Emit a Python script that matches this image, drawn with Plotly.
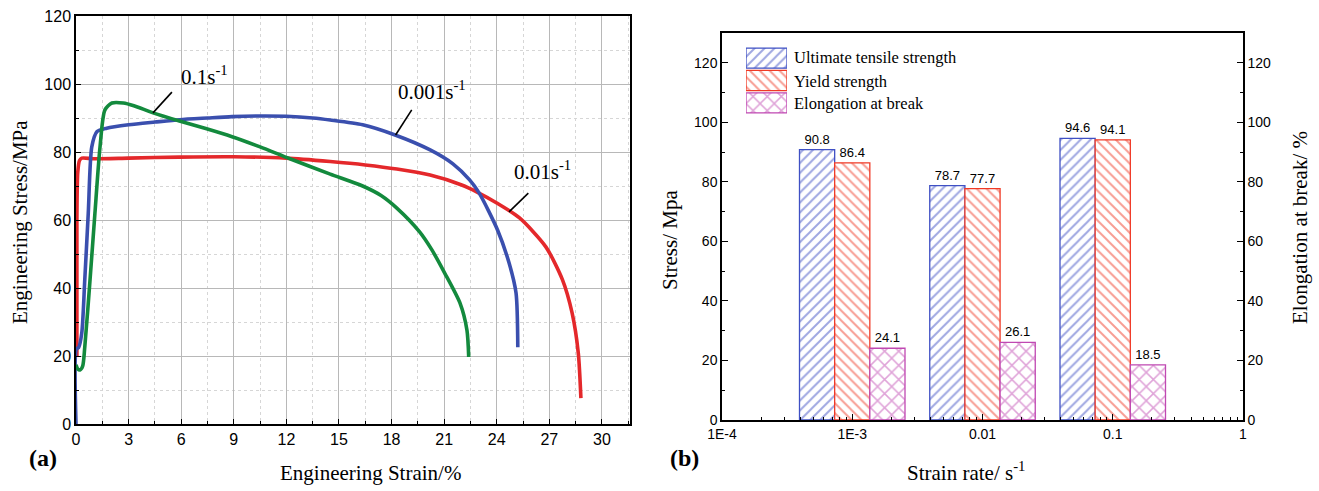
import numpy as np
import plotly.graph_objects as go

# ---------------- data: (a) stress-strain curves ----------------
strain_001 = [0.0, 0.02, 0.15, 0.33, 0.5, 0.7, 0.9, 1.2, 1.75, 3.0, 4.5, 5.9, 7.5, 8.9, 10.5, 12.0,
              13.5, 14.5, 16.35, 18.2, 20.2, 21.5, 22.45, 23.0, 24.05, 24.7, 25.1, 25.2]
stress_001 = [0.0, 22.0, 22.5, 26.8, 42.4, 62.0, 81.5, 86.0, 87.0, 88.0, 88.8, 89.5, 90.0, 90.4, 90.6, 90.5,
              90.0, 89.4, 88.0, 85.0, 80.6, 76.5, 71.8, 67.9, 57.0, 47.4, 38.5, 22.6]

strain_01 = [0.05, 0.05, 0.1, 0.2, 0.33, 1.0, 3.0, 5.9, 9.0, 12.0, 14.5, 16.5, 18.3, 20.2, 22.0, 22.85,
             24.0, 25.3, 26.8, 27.75, 28.3, 28.65, 28.8]
stress_01 = [20.0, 60.0, 74.0, 77.5, 78.2, 78.0, 78.2, 78.5, 78.6, 78.2, 77.2, 76.2, 75.0, 73.2, 70.3, 68.3,
             65.0, 60.6, 52.1, 42.4, 32.6, 20.9, 7.6]

strain_1 = [0.0, 0.1, 0.23, 0.38, 0.5, 0.8, 1.08, 1.37, 1.65, 2.05, 2.7, 3.3, 4.4, 5.9, 7.4, 8.9, 10.5,
            12.2, 14.5, 16.35, 17.4, 18.3, 19.6, 20.3, 21.03, 21.9, 22.3, 22.4]
stress_1 = [17.4, 16.2, 15.9, 17.0, 22.6, 42.4, 62.0, 81.5, 92.4, 94.4, 94.4, 93.6, 91.5, 89.1, 86.9,
            84.5, 81.5, 78.0, 73.5, 70.0, 67.2, 63.5, 56.5, 51.2, 44.4, 35.6, 27.6, 19.7]

curve_labels = ["0.001s<sup>-1</sup>", "0.01s<sup>-1</sup>", "0.1s<sup>-1</sup>"]

# ---------------- data: (b) bar chart ----------------
strain_rates = [0.001, 0.01, 0.1]
uts = [90.8, 78.7, 94.6]
yield_strength = [86.4, 77.7, 94.1]
elongation = [24.1, 26.1, 18.5]
series_names = ["Ultimate tensile strength", "Yield strength", "Elongation at break"]
rate_tickvals = [-4, -3, -2, -1, 0]
rate_ticktext = ["1E-4", "1E-3", "0.01", "0.1", "1"]

# ---------------- styling ----------------
W, H = 1319, 491
SERIF = "Liberation Serif"
SANS = "Liberation Sans"
C_RED, C_BLUE, C_GREEN = "#e4282b", "#3a4fae", "#138a3d"
B_BLUE, B_RED, B_PURPLE = "#3f50c4", "#f03a26", "#c048b2"


def px_x(p):
    return p / W


def px_y(p):
    return 1 - p / H


fig = go.Figure()

# (a) curves
for xs, ys, col in [(strain_01, stress_01, C_RED), (strain_001, stress_001, C_BLUE), (strain_1, stress_1, C_GREEN)]:
    fig.add_trace(go.Scatter(x=xs, y=ys, mode="lines", xaxis="x", yaxis="y",
                             line=dict(color=col, width=3.6, shape="spline", smoothing=0.7),
                             showlegend=False, hoverinfo="skip"))

# (b) bars
xpos = np.log10(strain_rates)
bw = 0.27
bar_specs = [
    (uts, B_BLUE, "/", 7, -1.5 * bw, "y2"),
    (yield_strength, B_RED, "\\", 7, -0.5 * bw, "y2"),
    (elongation, B_PURPLE, "x", 10, 0.5 * bw, "y3"),
]
for (vals, col, shp, sz, off, ya), name in zip(bar_specs, series_names):
    fig.add_trace(go.Bar(
        x=xpos, y=vals, xaxis="x2", yaxis=ya, name=name,
        width=bw, offset=off,
        marker=dict(color="white", line=dict(color=col, width=1.3),
                    pattern=dict(shape=shp, fgcolor=col, bgcolor="white", size=sz,
                                 solidity=0.28, fillmode="overlay")),
        text=[f"{v:.1f}" for v in vals], textposition="outside",
        textfont=dict(family=SANS, size=13, color="black"),
        constraintext="none", cliponaxis=False, showlegend=False, hoverinfo="skip"))

# legend key swatches (drawn as bars on a small hidden axis)
for i, ((vals, col, shp, sz, off, ya), name) in enumerate(zip(bar_specs, series_names)):
    fig.add_trace(go.Bar(
        x=[1], y=[i], orientation="h", xaxis="x3", yaxis="y4", width=0.9,
        marker=dict(color="white", line=dict(color=col, width=1.3),
                    pattern=dict(shape=shp, fgcolor=col, bgcolor="white", size=sz,
                                 solidity=0.28, fillmode="overlay")),
        showlegend=False, hoverinfo="skip", cliponaxis=False))

minor_log = [np.log10(k * 10.0 ** d) for d in range(-4, 0) for k in range(2, 10)]

axis_common = dict(showline=True, linecolor="black", linewidth=1.5, mirror=True, automargin=False,
                   ticks="inside", tickcolor="black", tickwidth=1.3, zeroline=False)

fig.update_layout(
    width=W, height=H, margin=dict(l=0, r=0, t=0, b=0, autoexpand=False),
    paper_bgcolor="white", plot_bgcolor="white", showlegend=False,
    barmode="overlay",
    xaxis=dict(domain=[px_x(76), px_x(630)], range=[0, 31.6], anchor="y",
               tick0=0, dtick=3, ticklen=5, showgrid=True, gridcolor="#b8b8b8", gridwidth=1.2,
               tickfont=dict(family=SANS, size=16, color="black"),
               minor=dict(dtick=1.5, ticks="inside", ticklen=3, tickcolor="black",
                          showgrid=True, gridcolor="#d6d6d6", griddash="dot", gridwidth=1),
               **axis_common),
    yaxis=dict(domain=[px_y(424), px_y(16)], range=[0, 120], anchor="x",
               tick0=0, dtick=20, ticklen=5, showgrid=True, gridcolor="#b8b8b8", gridwidth=1.2,
               tickfont=dict(family=SANS, size=16, color="black"),
               minor=dict(dtick=10, ticks="inside", ticklen=3, tickcolor="black",
                          showgrid=True, gridcolor="#d6d6d6", griddash="dot", gridwidth=1),
               **axis_common),
    xaxis2=dict(domain=[px_x(722), px_x(1243)], range=[-4, 0], anchor="y2",
                tickvals=rate_tickvals, ticktext=rate_ticktext, ticklen=6, showgrid=False,
                tickfont=dict(family=SANS, size=14, color="black"),
                minor=dict(tickvals=minor_log, ticks="inside", ticklen=3.5, tickcolor="black"),
                **axis_common),
    yaxis2=dict(domain=[px_y(420), px_y(33)], range=[0, 130], anchor="x2",
                tick0=0, dtick=20, ticklen=6, showgrid=False,
                tickfont=dict(family=SANS, size=14, color="black"),
                minor=dict(dtick=10, ticks="inside", ticklen=3.5, tickcolor="black"),
                **axis_common),
    yaxis3=dict(range=[0, 130], overlaying="y2", side="right", anchor="x2",
                tick0=0, dtick=20, ticklen=6, showgrid=False, automargin=False,
                tickfont=dict(family=SANS, size=14, color="black"),
                minor=dict(dtick=10, ticks="inside", ticklen=3.5, tickcolor="black"),
                showline=True, linecolor="black", linewidth=1.5, ticks="inside",
                tickcolor="black", tickwidth=1.3, zeroline=False),
    xaxis3=dict(domain=[px_x(746), px_x(787)], range=[0, 1], anchor="y4", visible=False,
                fixedrange=True, automargin=False),
    yaxis4=dict(domain=[px_y(114), px_y(47)], range=[2.5, -0.5], anchor="x3", visible=False,
                fixedrange=True, automargin=False),
)

ann = []
title_font = dict(family=SERIF, size=21, color="black")
# axis titles
ann.append(dict(text="Engineering Strain/%", x=px_x(370), y=px_y(473), xref="paper", yref="paper",
                showarrow=False, font=title_font, xanchor="center", yanchor="middle"))
ann.append(dict(text="Engineering Stress/MPa", x=px_x(20), y=px_y(222), xref="paper", yref="paper",
                showarrow=False, font=title_font, textangle=-90, xanchor="center", yanchor="middle"))
ann.append(dict(text="Strain rate/ s<sup>-1</sup>", x=px_x(966), y=px_y(471), xref="paper", yref="paper",
                showarrow=False, font=title_font, xanchor="center", yanchor="middle"))
ann.append(dict(text="Stress/ Mpa", x=px_x(670), y=px_y(240), xref="paper", yref="paper",
                showarrow=False, font=title_font, textangle=-90, xanchor="center", yanchor="middle"))
ann.append(dict(text="Elongation at break/ %", x=px_x(1300), y=px_y(228), xref="paper", yref="paper",
                showarrow=False, font=title_font, textangle=-90, xanchor="center", yanchor="middle"))
ann.append(dict(text="<b>(a)</b>", x=px_x(27), y=px_y(473), xref="paper", yref="paper",
                showarrow=False, font=dict(family=SERIF, size=24, color="black")))
ann.append(dict(text="<b>(b)</b>", x=px_x(684), y=px_y(473), xref="paper", yref="paper",
                showarrow=False, font=dict(family=SERIF, size=24, color="black")))
# legend key labels
for name, py in zip(series_names, [58, 81, 103]):
    ann.append(dict(text=name, x=px_x(792), y=px_y(py), xref="paper", yref="paper",
                    showarrow=False, xanchor="left", yanchor="middle",
                    font=dict(family=SERIF, size=16.5, color="black")))
# curve labels (data coordinates of plot a)
label_pos = [(20.3, 98.2), (26.6, 74.7), (7.35, 102.6)]
leaders = [((19.15, 92.4), (18.23, 85.0)), ((25.8, 67.9), (24.7, 62.4)), ((5.47, 97.6), (4.39, 91.5))]
for lab, (lx, ly) in zip(curve_labels, label_pos):
    ann.append(dict(text=lab, x=lx, y=ly, xref="x", yref="y", showarrow=False,
                    font=dict(family=SERIF, size=21, color="black")))
fig.update_layout(annotations=ann)

shapes = []
for (a, b) in leaders:
    shapes.append(dict(type="line", xref="x", yref="y", x0=a[0], y0=a[1], x1=b[0], y1=b[1],
                       line=dict(color="black", width=1.6)))
fig.update_layout(shapes=shapes)

# remove the browser's default 8px page margin so the 1319x491 figure fills the window exactly
fig.write_html("out.html", config={"displayModeBar": False},
               post_script="document.body.style.margin='0';document.body.style.overflow='hidden';")
